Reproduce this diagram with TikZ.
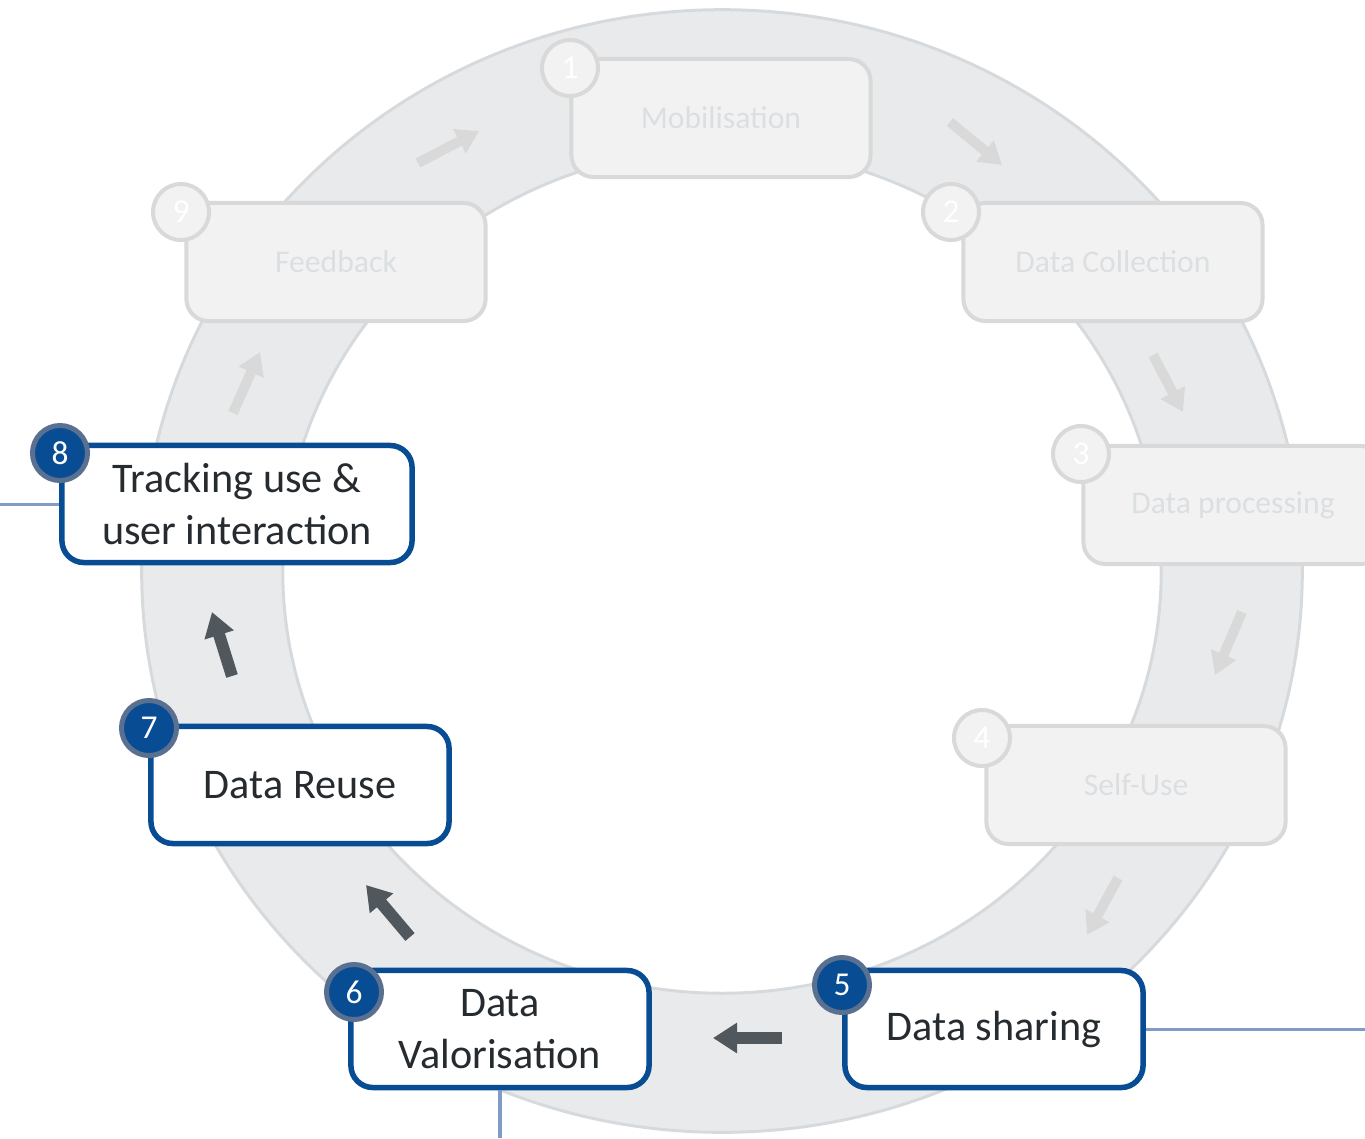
\documentclass[tikz,border=0pt]{standalone}
\usepackage{fontspec}
\setmainfont{Carlito}
\usetikzlibrary{arrows.meta}
\usetikzlibrary{positioning}

\definecolor{ringfill}{RGB}{233,234,236}
\definecolor{ringline}{RGB}{215,218,221}
\definecolor{boxblue}{RGB}{8,76,148}
\definecolor{numring}{RGB}{90,112,144}
\definecolor{dimfill}{RGB}{242,242,242}
\definecolor{dimline}{RGB}{217,217,217}
\definecolor{dimtext}{RGB}{220,223,226}
\definecolor{darktext}{RGB}{38,43,48}
\definecolor{arrowgray}{RGB}{80,87,93}
\definecolor{linkblue}{RGB}{126,156,198}

\begin{document}
\begin{tikzpicture}[
x=0.01cm, y=-0.01cm,
lit/.style ={rectangle, rounded corners=0.22cm, draw=boxblue, line width=0.055cm, fill=white,
  minimum width=2.98cm, minimum height=1.17cm, align=center, text=darktext,
  font=\fontsize{12}{14.8}\selectfont},
dim/.style ={rectangle, rounded corners=0.22cm, draw=dimline, line width=0.04cm, fill=dimfill,
  minimum width=2.99cm, minimum height=1.18cm, align=center, text=dimtext,
  font=\fontsize{9}{11}\selectfont},
litnum/.style ={circle, draw=numring, line width=0.05cm, fill=boxblue, text=white,
  minimum size=0.55cm, inner sep=0pt, font=\fontsize{9.5}{11}\selectfont},
dimnum/.style ={circle, draw=dimline, line width=0.04cm, fill=dimfill, text=white,
  minimum size=0.56cm, inner sep=0pt, font=\fontsize{9.5}{11}\selectfont},
litarrow/.style ={draw=arrowgray, line width=0.12cm, -{Triangle[length=0.24cm, width=0.29cm]}},
dimarrow/.style ={draw=dimline, line width=0.10cm, -{Triangle[length=0.22cm, width=0.26cm]}},
link/.style ={draw=linkblue, line width=0.03cm}
]
\useasboundingbox (0,0) rectangle (1365,1138);

% ring
\draw[ringline, fill=ringfill, line width=0.03cm, even odd rule]
  (722,571) ellipse [x radius=5.8cm, y radius=5.61cm]
  (722,571) ellipse [x radius=4.39cm, y radius=4.22cm];

% arrows along the ring
\path[dimarrow] (950,122) -- (1002,165);
\path[dimarrow] (1153,355) -- (1183,412);
\path[dimarrow] (1242,612) -- (1215,675);
\path[dimarrow] (1118,878) -- (1087,935);
\path[litarrow] (782,1038) -- (713,1038);
\path[litarrow] (410,937) -- (366,885);
\path[litarrow] (232,676) -- (212,612);
\path[dimarrow] (233,413) -- (260,352);
\path[dimarrow] (418,163) -- (479,131);

% steps
\node[dim] (mob) at (721,118) {Mobilisation};
\node[dim] (coll) at (1113,262) {Data Collection};
\node[dim] (proc) at (1233,505) {Data processing};
\node[dim] (self) at (1136,785) {Self-Use};
\node[lit] (share) at (994,1029) {Data sharing};
\node[lit] (valo) at (500,1029) {Data\\Valorisation};
\node[lit] (reuse) at (300,785) {Data Reuse};
\node[lit, minimum width=3.5cm] (track) at (237,504) {Tracking use \&\\user interaction};
\node[dim] (feed) at (336,262) {Feedback};

% outgoing links
\coordinate (edge8) at (0,504);
\coordinate (edge5) at (1365,1029);
\coordinate (edge6) at (500,1138);
\draw[link] (track.west) -- (edge8);
\draw[link] (share.east) -- (edge5);
\draw[link] (valo.south) -- (edge6);

% numbers
\node[dimnum] (n1) at (570,68) {1};
\node[dimnum] (n2) at (951,212) {2};
\node[dimnum] (n3) at (1081,454) {3};
\node[dimnum] (n4) at (982,738) {4};
\node[litnum] (n5) at (842,985) {5};
\node[litnum] (n6) at (354,992) {6};
\node[litnum] (n7) at (149,728) {7};
\node[litnum] (n8) at (60,453) {8};
\node[dimnum] (n9) at (181,212) {9};
\end{tikzpicture}
\end{document}
